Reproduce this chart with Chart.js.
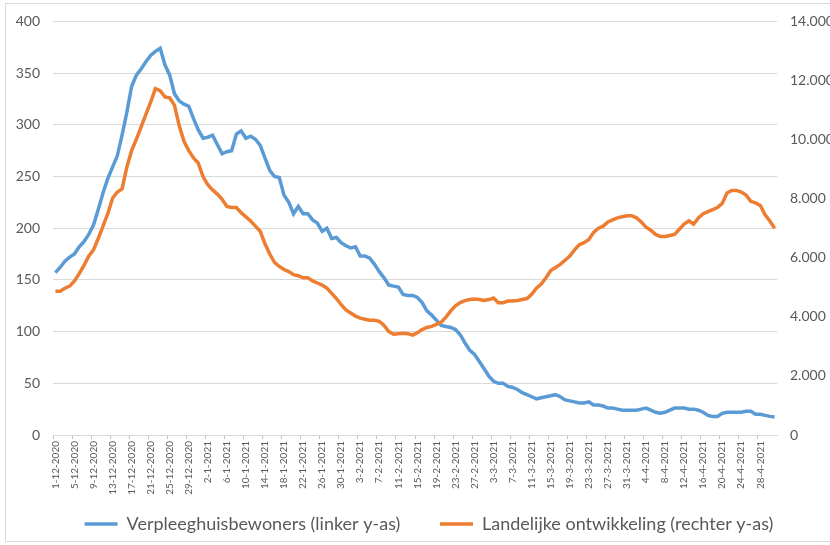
<!DOCTYPE html>
<html>
<head>
<meta charset="utf-8">
<script src="https://cdn.jsdelivr.net/npm/chart.js@4"></script>
<style>
  html, body { margin: 0; padding: 0; background: #fff; overflow: hidden; }
  #frame { position: absolute; left: 5px; top: 3px; width: 840px; height: 537px; border: 1px solid #d9d9d9; }
  #chart { position: absolute; left: 0; top: 0; }
</style>
</head>
<body>
<div id="frame"></div>
<canvas id="chart" width="830" height="545"></canvas>
<script>
// --- DATA ---
// one point per day, 1-12-2020 t/m 1-5-2021
const startDate = new Date(2020, 11, 1);
const dayCount = 152;

// Verpleeghuisbewoners (linker y-as)
const verpleeghuis = [
  157, 162, 168, 172, 175, 182, 187, 194, 203, 218,
  234, 248, 259, 270, 290, 312, 337, 348, 354, 361,
  367, 371, 374, 358, 348, 330, 323, 320, 318, 306,
  295, 287, 288, 290, 281, 272, 274, 275, 291, 294,
  287, 289, 286, 280, 268, 256, 250, 249, 232, 225,
  214, 221, 214, 214, 208, 205, 197, 200, 190, 191,
  186, 183, 181, 182, 173, 173, 171, 165, 158, 152,
  145, 144, 143, 136, 135, 135, 133, 128, 120, 116,
  111, 106, 105, 104, 102, 97, 89, 82, 78, 71,
  64, 57, 52, 50, 50, 47, 46, 44, 41, 39,
  37, 35, 36, 37, 38, 39, 37, 34, 33, 32,
  31, 31, 32, 29, 29, 28, 26, 26, 25, 24,
  24, 24, 24, 25, 26, 24, 22, 21, 22, 24,
  26, 26, 26, 25, 25, 24, 22, 19, 18, 18,
  21, 22, 22, 22, 22, 23, 23, 20, 20, 19,
  18, 17.5
];

// Landelijke ontwikkeling (rechter y-as)
const landelijk = [
  4865, 4865, 4970, 5040, 5215, 5460, 5740, 6055, 6265, 6650,
  7070, 7490, 8015, 8225, 8330, 9065, 9625, 10010, 10430, 10850,
  11270, 11725, 11655, 11445, 11410, 11165, 10465, 9940, 9625, 9380,
  9205, 8750, 8470, 8295, 8155, 7980, 7735, 7700, 7700, 7525,
  7385, 7245, 7070, 6895, 6475, 6125, 5845, 5705, 5600, 5530,
  5425, 5390, 5320, 5320, 5215, 5145, 5075, 4970, 4795, 4620,
  4410, 4235, 4130, 4025, 3955, 3920, 3885, 3885, 3850, 3710,
  3500, 3413, 3430, 3448, 3430, 3378, 3465, 3570, 3640, 3675,
  3745, 3815, 3990, 4200, 4375, 4480, 4550, 4585, 4603, 4585,
  4550, 4585, 4638, 4480, 4480, 4533, 4533, 4550, 4585, 4620,
  4760, 4970, 5110, 5320, 5565, 5670, 5775, 5915, 6055, 6265,
  6440, 6510, 6615, 6860, 7000, 7070, 7210, 7280, 7350, 7385,
  7420, 7420, 7350, 7210, 7035, 6930, 6790, 6720, 6720, 6755,
  6790, 6965, 7140, 7245, 7140, 7350, 7490, 7560, 7630, 7700,
  7840, 8190, 8278, 8278, 8225, 8120, 7910, 7858, 7770, 7455,
  7245, 7000
];

const labelEvery = 4;

// datumlabels d-m-jjjj
const dagen = [];
for (let i = 0; i < dayCount; i++) {
  const d = new Date(startDate);
  d.setDate(startDate.getDate() + i);
  dagen.push(d.getDate() + '-' + (d.getMonth() + 1) + '-' + d.getFullYear());
}

const tekstKleur = '#595959';
const gridKleur = '#d9d9d9';
const blauw = '#5b9bd5';
const oranje = '#ed7d31';
const fontFam = 'Lato, "Open Sans", sans-serif';

const fmt = v => v.toLocaleString('nl-NL');

// extra witruimte tussen de legenda-items (zoals in Excel)
const legendaRuimte = ['\u00a0\u00a0\u00a0\u00a0\u00a0\u00a0', ''];

// legenda iets naar rechts, Excel centreert over het tekengebied
const legendaSchuif = {
  id: 'legendaSchuif',
  afterLayout(chart) {
    if (chart.legend) chart.legend.left += 28;
  }
};

new Chart(document.getElementById('chart'), {
  type: 'line',
  data: {
    labels: dagen,
    datasets: [
      {
        label: 'Verpleeghuisbewoners (linker y-as)',
        data: verpleeghuis,
        yAxisID: 'y',
        borderColor: blauw,
        backgroundColor: blauw,
        borderWidth: 3.5,
        pointRadius: 0,
        tension: 0,
        order: 1
      },
      {
        label: 'Landelijke ontwikkeling (rechter y-as)',
        data: landelijk,
        yAxisID: 'y1',
        borderColor: oranje,
        backgroundColor: oranje,
        borderWidth: 3.5,
        pointRadius: 0,
        tension: 0,
        order: 0
      }
    ]
  },
  plugins: [legendaSchuif],
  options: {
    responsive: false,
    animation: false,
    events: [],
    layout: { padding: { top: 14, bottom: 2, left: 0, right: 0 } },
    plugins: {
      legend: {
        position: 'bottom',
        labels: {
          sort: (a, b) => a.datasetIndex - b.datasetIndex,
          usePointStyle: true,
          pointStyle: 'line',
          pointStyleWidth: 33,
          color: tekstKleur,
          padding: 12,
          font: { family: fontFam, size: 18 },
          generateLabels: chart => {
            const items = Chart.defaults.plugins.legend.labels.generateLabels(chart);
            items.forEach(it => { it.text = it.text + (legendaRuimte[it.datasetIndex] || ''); });
            return items;
          }
        }
      },
      tooltip: { enabled: false }
    },
    scales: {
      x: {
        offset: true,
        grid: {
          offset: true,
          drawOnChartArea: false,
          drawTicks: true,
          tickLength: 4,
          color: ctx => (ctx.index % labelEvery === 0 ? '#bfbfbf' : 'rgba(0,0,0,0)')
        },
        border: { display: true, color: gridKleur },
        ticks: {
          autoSkip: false,
          minRotation: 90,
          maxRotation: 90,
          padding: 2,
          color: tekstKleur,
          font: { family: fontFam, size: 10 },
          callback: function(val, idx) {
            return idx % labelEvery === 0 ? this.getLabelForValue(val) : '';
          }
        },
        afterFit: s => { s.height = 68; }
      },
      y: {
        position: 'left',
        min: 0,
        max: 400,
        grid: { color: gridKleur, lineWidth: 1, drawTicks: false },
        border: { display: false },
        ticks: {
          stepSize: 50,
          padding: 13,
          color: tekstKleur,
          font: { family: fontFam, size: 14 }
        },
        afterFit: s => { s.width = 53; }
      },
      y1: {
        position: 'right',
        min: 0,
        max: 14000,
        grid: { display: false, drawTicks: false },
        border: { display: false },
        ticks: {
          stepSize: 2000,
          padding: 13,
          color: tekstKleur,
          font: { family: fontFam, size: 14 },
          callback: v => fmt(v)
        },
        afterFit: s => { s.width = 53; }
      }
    }
  }
});
</script>
</body>
</html>
